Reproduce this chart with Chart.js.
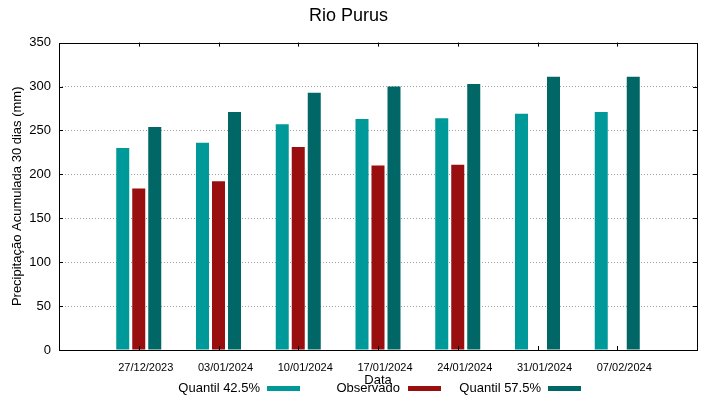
<!DOCTYPE html>
<html><head><meta charset="utf-8">
<script src="https://cdn.jsdelivr.net/npm/chart.js@4"></script>
<style>html,body{margin:0;padding:0;background:#fff;}#wrap{width:719px;height:399px;}</style>
</head><body><div id="wrap"><canvas id="c" width="719" height="399"></canvas></div>
<script>
const categories = ["27/12/2023","03/01/2024","10/01/2024","17/01/2024","24/01/2024","31/01/2024","07/02/2024"];
const quantil425 = [230, 236, 257, 263, 264, 269, 271];
const observado = [184, 192, 231, 210, 211, null, null];
const quantil575 = [254, 271, 293, 300, 303, 311, 311];
const yTicks = [0,50,100,150,200,250,300,350];
const seriesLabels = ["Quantil 42.5%","Observado","Quantil 57.5%"];
const colors = ["#009999","#990f0f","#006666"];

const FONT = "'Liberation Sans', Arial, sans-serif";
const toXY = arr => arr.map((v,i)=>({x:i,y:v}));

const frame = {
  id:'frame',
  afterDraw(chart){
    const {ctx, chartArea:a, scales:{x,y}} = chart;
    ctx.save();
    ctx.strokeStyle = '#000'; ctx.lineWidth = 1;
    ctx.beginPath();
    for (let i=0;i<categories.length;i++){
      const px = Math.round(x.getPixelForValue(i))+0.5;
      ctx.moveTo(px,a.bottom); ctx.lineTo(px,a.bottom-4);
      ctx.moveTo(px,a.top); ctx.lineTo(px,a.top+4);
    }
    yTicks.forEach(v=>{
      const py = Math.round(y.getPixelForValue(v))+0.5;
      ctx.moveTo(a.left,py); ctx.lineTo(a.left+4,py);
      ctx.moveTo(a.right,py); ctx.lineTo(a.right-4,py);
    });
    ctx.stroke();
    ctx.strokeRect(Math.round(a.left)+0.5, Math.round(a.top)+0.5, Math.round(a.right-a.left), Math.round(a.bottom-a.top));
    const items = [{tx:260,bx:267},{tx:400,bx:408},{tx:541,bx:548}];
    ctx.font = "13px " + FONT;
    ctx.textAlign = 'right'; ctx.textBaseline = 'middle';
    items.forEach((it,i)=>{
      ctx.fillStyle = '#000';
      ctx.fillText(seriesLabels[i], it.tx, 388);
      ctx.fillStyle = colors[i];
      ctx.fillRect(it.bx, 386, 33, 5);
    });
    ctx.restore();
  }
};

new Chart(document.getElementById('c'), {
  type:'bar',
  data:{
    datasets:[
      {label:seriesLabels[0], data:toXY(quantil425), backgroundColor:colors[0]},
      {label:seriesLabels[1], data:toXY(observado), backgroundColor:colors[1]},
      {label:seriesLabels[2], data:toXY(quantil575), backgroundColor:colors[2]}
    ]
  },
  options:{
    responsive:false, animation:false,
    categoryPercentage:0.602, barPercentage:0.8125,
    layout:{padding:{left:0,right:22,top:0,bottom:0}},
    plugins:{
      legend:{display:false}, tooltip:{enabled:false},
      title:{display:true, text:'Rio Purus', color:'#000', font:{family:FONT,size:18,weight:'normal'}, padding:{top:5,bottom:16}}
    },
    scales:{
      x:{
        type:'linear', min:-1, max:7, offset:false,
        afterBuildTicks(s){ s.ticks = categories.map((c,i)=>({value:i})); },
        afterFit(s){ s.height = 49; },
        grid:{display:false, drawTicks:false},
        border:{display:false},
        ticks:{color:'#000', font:{family:FONT,size:11}, padding:11, labelOffset:7, maxRotation:0, autoSkip:false,
          callback:(v)=> categories[v] ?? ''},
        title:{display:true, text:'Data', color:'#000', font:{family:FONT,size:13}, padding:{top:0,bottom:11}}
      },
      y:{
        min:0, max:350,
        afterBuildTicks(s){ s.ticks = yTicks.map(v=>({value:v})); },
        afterFit(s){ s.width = 59; },
        grid:{color:(c)=> (c.tick && (c.tick.value===0||c.tick.value===350)) ? 'rgba(0,0,0,0)' : '#a0a0a0', lineWidth:1, drawTicks:false},
        border:{display:false, dash:[1,2]},
        ticks:{color:'#000', font:{family:FONT,size:13}, padding:8},
        title:{display:true, text:'Precipitação Acumulada 30 dias (mm)', color:'#000', font:{family:FONT,size:13}, padding:{top:10,bottom:0}}
      }
    }
  },
  plugins:[frame]
});
</script></body></html>
